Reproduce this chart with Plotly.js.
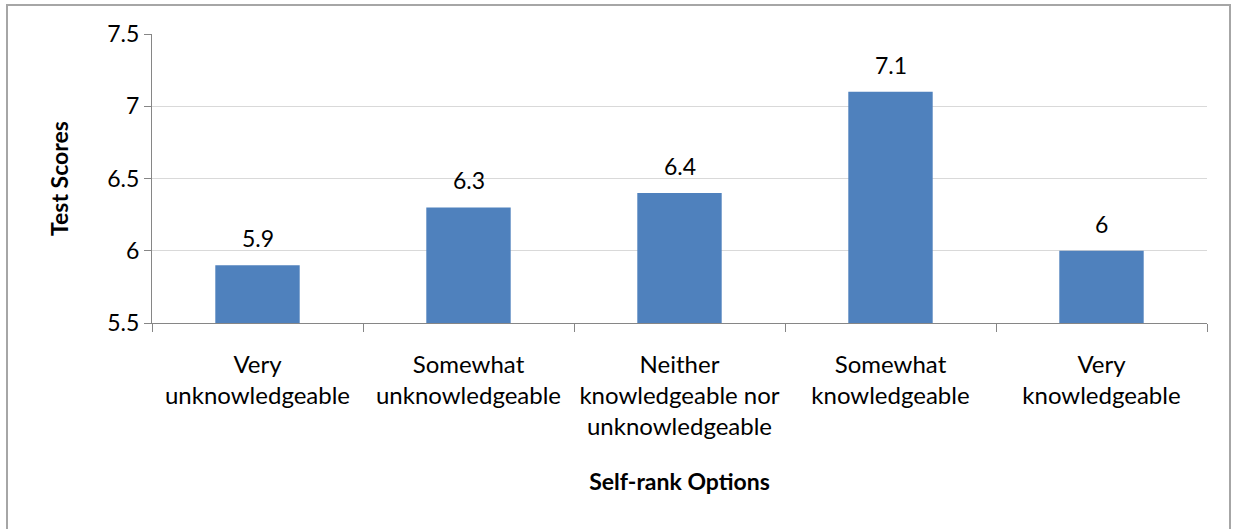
<!DOCTYPE html>
<html>
<head>
<meta charset="utf-8">
<script src="https://cdn.plot.ly/plotly-3.0.1.min.js"></script>
<style>
  html, body { margin: 0; padding: 0; background: #fff; }
  #wrap { position: relative; width: 1235px; height: 529px; overflow: hidden; }
  #chart { width: 1235px; height: 529px; }
  #frame { position: absolute; left: 6px; top: 4px; width: 1221px; height: 540px;
           border: 2px solid #a6a6a6; pointer-events: none; }
</style>
</head>
<body>
<div id="wrap">
  <div id="chart"></div>
  <div id="frame"></div>
</div>
<script>
// Self-rank categories and mean test scores
const categories = [
  "Very<br>unknowledgeable",
  "Somewhat<br>unknowledgeable",
  "Neither<br>knowledgeable nor<br>unknowledgeable",
  "Somewhat<br>knowledgeable",
  "Very<br>knowledgeable"
];
const scores = [5.9, 6.3, 6.4, 7.1, 6];
const scoreLabels = ["5.9", "6.3", "6.4", "7.1", "6"];
const yTicks = [5.5, 6, 6.5, 7, 7.5];
const yTickText = ["5.5", "6", "6.5", "7", "7.5"];
const baseline = 5.5;

const font = "Lato, 'Open Sans', sans-serif";

const trace = {
  type: "bar",
  x: categories,
  y: scores.map(v => v - baseline),
  base: baseline,
  marker: { color: "#4F81BD" },
  hoverinfo: "skip"
};

// value labels floating above each bar
const valueLabels = categories.map((c, i) => ({
  x: c,
  y: scores[i],
  xref: "x",
  yref: "y",
  text: scoreLabels[i],
  showarrow: false,
  yanchor: "bottom",
  yshift: 11,
  font: { family: font, size: 23, color: "#000" }
}));

const layout = {
  width: 1235,
  height: 529,
  margin: { l: 152, r: 28, t: 34, b: 206 },
  paper_bgcolor: "#fff",
  plot_bgcolor: "#fff",
  showlegend: false,
  bargap: 0.6,
  font: { family: font, size: 23, color: "#000" },
  annotations: valueLabels,
  xaxis: {
    type: "category",
    tickson: "boundaries",
    ticks: "outside",
    ticklen: 8,
    tickcolor: "#868686",
    showline: true,
    linecolor: "#868686",
    linewidth: 1,
    showgrid: false,
    ticklabelstandoff: 20,
    tickfont: { family: font, size: 24, color: "#000" },
    title: { text: "<b>Self-rank Options</b>", font: { family: font, size: 23, color: "#000" }, standoff: 34 }
  },
  yaxis: {
    range: [5.5, 7.5],
    tickvals: yTicks,
    ticktext: yTickText,
    ticks: "outside",
    ticklen: 7,
    tickcolor: "#868686",
    showline: true,
    linecolor: "#868686",
    linewidth: 1,
    showgrid: true,
    gridcolor: "#d9d9d9",
    zeroline: false,
    tickfont: { family: font, size: 23, color: "#000" },
    title: { text: "<b>Test Scores</b>", font: { family: font, size: 23, color: "#000" }, standoff: 32 }
  }
};

Plotly.newPlot("chart", [trace], layout, { displayModeBar: false, staticPlot: true });
</script>
</body>
</html>
